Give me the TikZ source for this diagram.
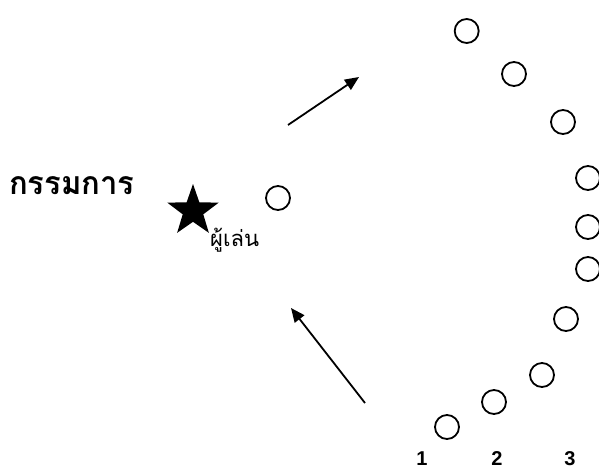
\documentclass[tikz,border=0pt]{standalone}
\usepackage{fontspec}
\setmainfont{Liberation Sans}
\newfontfamily\thaifont[Script=Thai]{Loma}
\usetikzlibrary{shapes.geometric,arrows.meta}
\tikzset{
  ring/.style={circle,draw=black,line width=1.8pt,minimum size=24pt,inner sep=0pt},
  arr/.style={line width=1.8pt,-{Triangle[length=14pt,width=12pt]}},
  num/.style={font=\fontsize{20}{20}\selectfont\bfseries,inner sep=0pt}
}
\begin{document}
\begin{tikzpicture}[x=1pt,y=-1pt]
\useasboundingbox (0,0) rectangle (599,472);
\node[ring] (c1) at (466.7,31) {};
\node[ring] (c2) at (514,74) {};
\node[ring] (c3) at (563,122) {};
\node[ring] (c4) at (588,178) {};
\node[ring] (c5) at (588,227) {};
\node[ring] (c6) at (588,269) {};
\node[ring] (c7) at (566,319) {};
\node[ring] (c8) at (542,375) {};
\node[ring] (c9) at (494,402) {};
\node[ring] (c10) at (447,427) {};
\node[ring] (p) at (278,198) {};
\node[star,star points=5,star point ratio=2.5,fill=black,minimum size=54pt,inner sep=0pt] (s) at (193,211) {};
\node[font=\thaifont\bfseries\fontsize{32}{32}\selectfont,anchor=west,inner sep=0pt,xscale=0.97] (ref) at (9,186) {กรรมการ};
\node[font=\thaifont\fontsize{22}{22}\selectfont,anchor=west,inner sep=0pt] (pl) at (210,240) {ผู้เล่น};
\node[num] (n1) at (422,459) {1};
\node[num] (n2) at (497,459) {2};
\node[num] (n3) at (570,459) {3};
\coordinate (a1s) at (288,125);
\coordinate (a1e) at (359,77);
\coordinate (a2s) at (365,403);
\coordinate (a2e) at (291,308);
\draw[arr] (a1s) -- (a1e);
\draw[arr] (a2s) -- (a2e);
\end{tikzpicture}
\end{document}
